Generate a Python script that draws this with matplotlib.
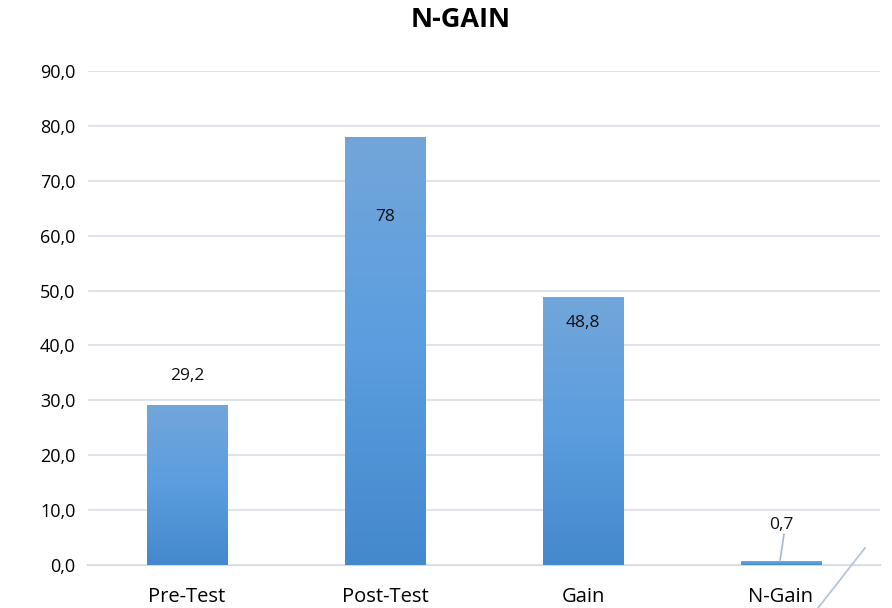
import matplotlib
matplotlib.use("Agg")
import matplotlib.pyplot as plt
import numpy as np
from matplotlib.colors import LinearSegmentedColormap
from matplotlib.ticker import FuncFormatter
from matplotlib.lines import Line2D

categories = ["Pre-Test", "Post-Test", "Gain", "N-Gain"]
values = [29.2, 78, 48.8, 0.7]
value_labels = ["29,2", "78", "48,8", "0,7"]
label_y = [34.4, 63.4, 44.1, 7.3]
title = "N-GAIN"

plt.rcParams['font.family'] = ['Open Sans', 'DejaVu Sans']

fig = plt.figure(figsize=(8.92, 6.08), dpi=100)
ax = fig.add_axes([88/892, 1-565/608, 792/892, 494/608])

x = np.arange(len(categories))
bars = ax.bar(x, values, width=0.405, color='none', zorder=3)

cmap = LinearSegmentedColormap.from_list("g", [(0, "#4489cc"), (0.5, "#5b9ddf"), (1, "#72a6da")])
grad = np.linspace(0, 1, 256).reshape(-1, 1)
for b in bars:
    x0, y0 = b.get_x(), b.get_y()
    w, h = b.get_width(), b.get_height()
    im = ax.imshow(grad, cmap=cmap, origin='lower', aspect='auto',
                   extent=[x0, x0 + w, y0, y0 + h], zorder=3)
    im.set_clip_path(b)
    if h < 2:
        b.set_facecolor("#5b9ddf")

for xi, lab, ly in zip(x, value_labels, label_y):
    ax.text(xi, ly, lab, ha='center', va='center', fontsize=12.5, color='#111111', zorder=5)

# leader line for N-Gain label
ax.plot([x[3] + 0.015, x[3] - 0.005], [5.6, 0.75], color='#a6b8cc', lw=1.2, zorder=4)

ax.set_xlim(-0.5, 3.5)
ax.set_ylim(0, 90)
ax.set_yticks(np.arange(0, 91, 10))
ax.yaxis.set_major_formatter(FuncFormatter(lambda v, p: f"{v:.1f}".replace('.', ',')))
ax.set_xticks(x)
ax.set_xticklabels(categories, fontsize=14.5)
ax.tick_params(axis='y', labelsize=13, length=0, pad=9)
ax.tick_params(axis='x', length=0, pad=16)
ax.grid(axis='y', color='#dfe3ea', lw=1.5, zorder=0)
for s in ['top', 'right', 'left']:
    ax.spines[s].set_visible(False)
ax.spines['bottom'].set_color('#d9d9d9')
ax.spines['bottom'].set_linewidth(1.5)
ax.spines['bottom'].set_zorder(1)

fig.text(461/892, 1-20/608, title, ha='center', va='center', fontsize=19.5, fontweight='bold')

# decorative diagonal stroke at bottom right
fig.add_artist(Line2D([865/892, 818/892], [1-548/608, 1-608/608],
                      transform=fig.transFigure, color='#b8c4d6', lw=1.3))

fig.savefig("out.png", dpi=100)
